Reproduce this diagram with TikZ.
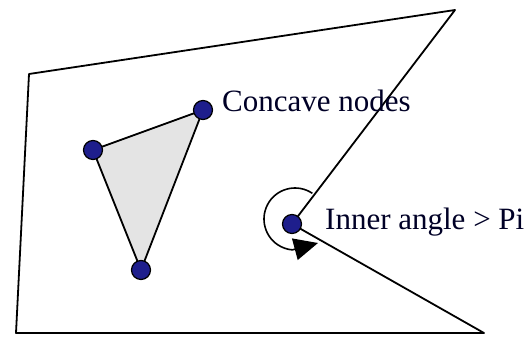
\documentclass[tikz,border=0pt]{standalone}
\usepackage{fontspec}
\setmainfont{Liberation Serif}
\usetikzlibrary{arrows.meta,calc}
\definecolor{dotblue}{HTML}{1E1E8C}
\definecolor{trigrey}{HTML}{E4E4E4}
\tikzset{
  edge/.style={line width=1.8pt, line join=round},
  vtx/.style={circle, draw=black, line width=1.2pt, fill=dotblue, minimum size=19pt, inner sep=0pt},
  lbl/.style={font=\fontsize{31}{31}\selectfont, anchor=west, inner sep=0pt, text=black!85!blue}
}
\begin{document}
\begin{tikzpicture}[x=1pt,y=-1pt]
\useasboundingbox (0,0) rectangle (530,337);
\coordinate (tl) at (29,74);
\coordinate (tr) at (455,10);
\coordinate (rv) at (292,224);
\coordinate (br) at (484,333);
\coordinate (bl) at (16,333);
\draw[edge] (tl) -- (tr) -- (rv) -- (br) -- (bl) -- cycle;
\coordinate (ta) at (93,150);
\coordinate (tb) at (203,110);
\coordinate (tc) at (141,270);
\filldraw[edge, fill=trigrey] (ta) -- (tb) -- (tc) -- cycle;
\coordinate (ac) at (295,219);
\coordinate (atip) at (318,243);
\draw[line width=1.6pt, -{Triangle[length=24pt,width=22pt]}] ($(ac)+(-56:31)$) arc[start angle=-56, end angle=-265, radius=31] -- (atip);
\node[vtx] (na) at (ta) {};
\node[vtx] (nb) at (tb) {};
\node[vtx] (nc) at (tc) {};
\node[vtx] (nr) at (rv) {};
\node[lbl] (l1) at (222,101) {Concave nodes};
\node[lbl] (l2) at (325,222) {Inner angle > Pi};
\end{tikzpicture}
\end{document}
